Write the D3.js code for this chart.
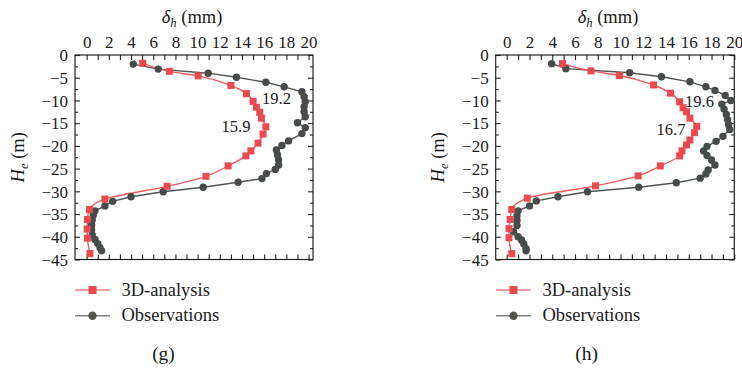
<!DOCTYPE html>
<html><head><meta charset="utf-8">
<script src="https://cdn.jsdelivr.net/npm/d3@7"></script>
<style>
html,body{margin:0;padding:0;background:#fff;}
</style></head>
<body>
<svg id="c" width="742" height="370"></svg>
<script>
// ---------- data ----------
const xTickValues = [0,2,4,6,8,10,12,14,16,18,20];
const yTickValues = [0,-5,-10,-15,-20,-25,-30,-35,-40,-45];
const seriesNames = ["3D-analysis","Observations"];
const panelLabels = ["(g)","(h)"];

// panel (g)
const gSimDepth = [-1.8,-3.6,-4.6,-6.7,-8.5,-10.2,-11.5,-12.6,-13.9,-15.8,-17.4,-19.4,-21.1,-22.2,-24.4,-26.7,-28.9,-31.7,-34.0,-36.2,-38.3,-40.3,-43.7];
const gSimValue = [5.05,7.45,10.05,13.0,14.4,15.0,15.3,15.6,15.75,16.15,15.9,15.45,14.8,14.35,12.75,10.75,7.25,1.65,0.25,0.07,0.05,0.07,0.3];
const gObsDepth = [-2.0,-3.1,-4.0,-4.9,-6.0,-7.0,-8.1,-9.2,-10.3,-11.4,-12.5,-13.6,-14.9,-16.0,-17.3,-18.9,-19.9,-20.9,-22.0,-23.1,-24.2,-25.2,-26.1,-27.2,-28.0,-29.1,-30.1,-31.2,-32.2,-33.2,-34.3,-35.2,-36.3,-37.4,-38.5,-39.6,-40.6,-41.5,-42.4,-43.1];
const gObsValue = [4.2,6.45,10.95,13.5,16.15,17.8,19.4,19.6,19.7,19.6,19.6,19.7,19.0,19.7,19.4,18.2,17.6,17.1,17.2,17.3,17.3,17.0,16.2,15.8,13.65,10.5,6.9,4.0,2.35,1.65,0.75,0.6,0.5,0.45,0.45,0.5,0.75,1.0,1.2,1.35];
const gNotes = ["19.2","15.9"];

// panel (h)
const hSimDepth = [-1.9,-3.5,-4.5,-6.6,-8.4,-10.3,-11.6,-12.5,-13.9,-15.7,-17.1,-18.7,-19.8,-21.1,-22.2,-24.4,-26.6,-28.8,-31.5,-34.0,-36.2,-38.2,-40.2,-43.7];
const hSimValue = [4.9,7.4,9.9,12.9,14.4,15.2,15.5,15.8,16.1,16.7,16.5,16.1,15.8,15.4,15.2,13.5,11.55,7.8,1.8,0.44,0.3,0.2,0.2,0.44];
const hObsDepth = [-1.9,-3.0,-3.9,-4.8,-5.9,-7.0,-7.8,-8.9,-10.0,-10.8,-11.9,-13.1,-14.2,-15.3,-16.4,-17.9,-19.0,-20.1,-21.1,-22.1,-23.1,-24.2,-25.3,-26.2,-27.1,-28.1,-29.1,-30.1,-31.2,-32.1,-33.2,-34.3,-35.4,-36.4,-37.5,-38.9,-40.0,-40.7,-41.6,-42.6,-43.1];
const hObsValue = [3.95,5.2,10.8,13.6,16.1,17.5,18.3,19.2,19.7,18.9,19.1,19.3,19.4,19.5,19.6,19.0,18.4,17.6,17.3,17.6,18.0,18.3,17.7,17.5,17.0,14.9,11.6,7.1,4.5,2.6,2.0,1.0,0.9,0.9,0.9,0.6,1.0,1.3,1.5,1.7,1.7];
const hNotes = ["19.6","16.7"];

// ---------- styles ----------
const simColor = "#ea4a4f", simLine = "#ee5a5e";
const obsColor = "#474c4b", obsLine = "#505554";
const legSimLine = "#f28080", legObsLine = "#7f8483";
const txt = "#1a1a1a";
const FONT = "Liberation Serif";

const svg = d3.select("#c");

function panel(cfg){
  const x = d3.scaleLinear().domain(cfg.xDomain).range([cfg.left, cfg.right]);
  const y = d3.scaleLinear().domain([0,-45]).range([cfg.top, cfg.bottom]);
  const g = svg.append("g").attr("font-family",FONT);
  const fmt = d3.format("d");

  g.append("rect").attr("x",cfg.left).attr("y",cfg.top)
    .attr("width",cfg.right-cfg.left).attr("height",cfg.bottom-cfg.top)
    .attr("fill","none").attr("stroke","#222").attr("stroke-width",1.2);

  const minorX = d3.range(0,20.01,1);
  const minorY = d3.range(0,-45.01,-2.5);

  const top = g.append("g").attr("transform",`translate(0,${cfg.top})`)
    .call(d3.axisTop(x).tickValues(minorX).tickSizeInner(-5).tickSizeOuter(0).tickPadding(7)
      .tickFormat(d => xTickValues.includes(d) ? fmt(d) : ""));
  const bot = g.append("g").attr("transform",`translate(0,${cfg.bottom})`)
    .call(d3.axisBottom(x).tickValues(minorX).tickSizeInner(-5).tickSizeOuter(0).tickFormat(""));
  const lef = g.append("g").attr("transform",`translate(${cfg.left},0)`)
    .call(d3.axisLeft(y).tickValues(minorY).tickSizeInner(-5).tickSizeOuter(0).tickPadding(7)
      .tickFormat(d => yTickValues.includes(d) ? fmt(d) : ""));
  const rig = g.append("g").attr("transform",`translate(${cfg.right},0)`)
    .call(d3.axisRight(y).tickValues(minorY).tickSizeInner(-5).tickSizeOuter(0).tickFormat(""));
  [top,bot,lef,rig].forEach(a=>{
    a.attr("font-family",FONT);
    a.select(".domain").remove();
    a.selectAll(".tick line").attr("stroke","#222").attr("stroke-width",1.1);
    a.selectAll("text").attr("font-family",FONT).attr("font-size",17).attr("fill",txt);
  });
  lef.selectAll(".tick").filter(d => !yTickValues.includes(d)).select("line").attr("x2",3);
  rig.selectAll(".tick").filter(d => !yTickValues.includes(d)).select("line").attr("x2",-3);
  top.selectAll("text").attr("dy","0");
  lef.selectAll("text").attr("dy","0.34em");

  const tt = g.append("text").attr("x",x(cfg.titleAt)).attr("y",23).attr("text-anchor","middle")
    .attr("font-size",18.5).attr("fill",txt);
  tt.append("tspan").attr("font-style","italic").text("δ");
  tt.append("tspan").attr("font-style","italic").attr("font-size",12.5).attr("dy",4).text("h");
  tt.append("tspan").attr("dy",-4).text(" (mm)");

  const yl = g.append("text").attr("transform",`translate(${cfg.ylabX},${(cfg.top+cfg.bottom)/2}) rotate(-90)`)
    .attr("text-anchor","middle").attr("font-size",18.5).attr("fill",txt);
  yl.append("tspan").attr("font-style","italic").text("H");
  yl.append("tspan").attr("font-style","italic").attr("font-size",12.5).attr("dy",4).text("e");
  yl.append("tspan").attr("dy",-4).text(" (m)");

  const simPts = cfg.simDepth.map((d,i)=>[cfg.simValue[i], d]);
  const obsPts = cfg.obsDepth.map((d,i)=>[cfg.obsValue[i], d]);
  const lineSim = d3.line().x(d=>x(d[0])).y(d=>y(d[1])).curve(d3.curveMonotoneY);
  const lineObs = d3.line().x(d=>x(d[0])).y(d=>y(d[1]));

  g.append("path").attr("d",lineObs(obsPts)).attr("fill","none").attr("stroke",obsLine).attr("stroke-width",1.4);
  g.append("path").attr("d",lineSim(simPts)).attr("fill","none").attr("stroke",simLine).attr("stroke-width",1.4);

  g.selectAll(".obs").data(obsPts).join("circle").attr("class","obs")
    .attr("cx",d=>x(d[0])).attr("cy",d=>y(d[1])).attr("r",3.7).attr("fill",obsColor);
  g.selectAll(".sim").data(simPts).join("rect").attr("class","sim")
    .attr("x",d=>x(d[0])-3.5).attr("y",d=>y(d[1])-3.5).attr("width",7).attr("height",7).attr("fill",simColor);

  g.append("text").attr("x",cfg.note1[0]).attr("y",cfg.note1[1]).attr("font-size",16.5).attr("fill",txt).text(cfg.notes[0]);
  g.append("text").attr("x",cfg.note2[0]).attr("y",cfg.note2[1]).attr("font-size",16.5).attr("fill",txt).text(cfg.notes[1]);

  const lx = cfg.legX;
  const leg = g.append("g");
  leg.append("line").attr("x1",lx).attr("x2",lx+35).attr("y1",290).attr("y2",290).attr("stroke",legSimLine).attr("stroke-width",1.6);
  leg.append("rect").attr("x",lx+17.5-4).attr("y",286).attr("width",8).attr("height",8).attr("fill",simColor);
  leg.append("text").attr("x",lx+46.5).attr("y",295.5).attr("font-size",18.5).attr("fill",txt).text(seriesNames[0]);
  leg.append("line").attr("x1",lx).attr("x2",lx+35).attr("y1",315.7).attr("y2",315.7).attr("stroke",legObsLine).attr("stroke-width",1.6);
  leg.append("circle").attr("cx",lx+17.5).attr("cy",315.7).attr("r",4.2).attr("fill","#4f554c");
  leg.append("text").attr("x",lx+46.5).attr("y",321).attr("font-size",18.5).attr("fill",txt).text(seriesNames[1]);

  g.append("text").attr("x",cfg.capX).attr("y",360).attr("text-anchor","middle").attr("font-size",19.5).attr("fill",txt).text(cfg.caption);
}

panel({left:75,right:313,top:55,bottom:259.5,xDomain:[-1.05,20.4],titleAt:9.5,ylabX:24,
  simDepth:gSimDepth,simValue:gSimValue,obsDepth:gObsDepth,obsValue:gObsValue,
  notes:gNotes,note1:[262,104],note2:[221.5,131.5],legX:75,capX:163.5,caption:panelLabels[0]});
panel({left:495.7,right:734.3,top:55,bottom:259.5,xDomain:[-0.97,20],titleAt:8.9,ylabX:444,
  simDepth:hSimDepth,simValue:hSimValue,obsDepth:hObsDepth,obsValue:hObsValue,
  notes:hNotes,note1:[685,107],note2:[656.5,135],legX:496,capX:586.7,caption:panelLabels[1]});
</script>
</body></html>
